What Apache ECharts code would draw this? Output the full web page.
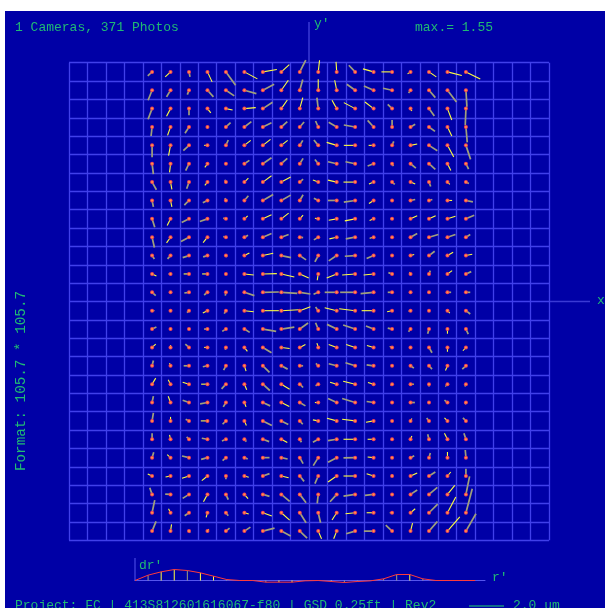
<!DOCTYPE html>
<html><head><meta charset="utf-8">
<style>html,body{margin:0;padding:0;background:#fff;overflow:hidden}#c{width:605px;height:608px}</style>
<script src="https://cdn.jsdelivr.net/npm/echarts@6/dist/echarts.min.js"></script>
</head><body><div id="c"></div>
<script>
// Residual components per grid row (top to bottom), 18 columns each.
// Unit: 1/52.5 um (the 2.0 um scale bar is 105 of these units).
const dxRows = [
[-13,-16,3,14,29,39,42,24,18,4,-2,-19,-32,-32,-9,22,43,43],
[-12,-12,-5,18,25,36,34,21,9,0,-6,-25,-29,-27,-6,19,27,3],
[-12,-12,0,10,20,34,29,18,9,-4,-14,-34,-26,-13,4,16,13,-2],
[-3,-9,-12,0,14,21,26,18,13,-8,-24,-34,-18,0,14,18,13,4],
[0,-6,-17,-10,7,19,23,19,9,-13,-30,-34,-15,5,20,25,19,14],
[4,-3,-10,-8,0,15,26,18,10,-10,-26,-29,-18,4,16,19,10,8],
[13,4,-7,-8,-3,12,26,28,10,-16,-26,-35,-14,8,14,5,7,9],
[4,4,-14,-14,-3,12,31,28,10,-13,-26,-34,-14,0,14,10,14,21],
[8,-10,-22,-23,-8,10,26,22,10,-10,-24,-31,-12,-5,20,20,24,25],
[7,-12,-24,-13,-8,11,26,22,10,-13,-22,-28,-12,0,20,28,24,13],
[7,-9,-19,-13,3,15,31,29,19,-10,-24,-31,-21,0,11,17,17,19],
[13,-6,-16,-16,0,28,42,39,27,-3,-30,-39,-30,-11,-3,4,14,16],
[11,0,-14,-10,-2,30,48,48,32,-14,-36,-45,-39,-13,0,0,11,13],
[7,0,-6,-14,-5,28,48,53,32,-8,-36,-48,-36,-15,-6,0,7,13],
[13,0,0,-10,-11,16,40,39,25,-8,-29,-36,-23,-13,-6,-4,0,7],
[11,0,-11,-10,-2,9,26,25,17,-4,-24,-27,-20,-7,0,9,0,-9],
[4,-3,-16,-14,-7,5,20,19,10,-7,-24,-29,-21,0,10,9,-6,-11],
[11,-7,-19,-19,-13,7,21,25,10,-8,-20,-36,-17,-4,10,0,-6,-3],
[4,-7,-19,-22,-8,5,22,24,17,-10,-26,-39,-21,0,13,0,-9,-3],
[4,0,-10,-20,-10,6,27,21,9,-16,-29,-39,-23,0,4,-7,-9,-9],
[0,-3,-7,-17,-12,6,19,18,5,-16,-26,-35,-18,0,4,-4,-9,-6],
[5,-10,-21,-19,-10,10,20,19,10,-15,-26,-35,-18,0,11,4,0,-2],
[-13,-15,-21,-17,0,13,20,22,13,-10,-26,-35,-21,0,20,19,10,0],
[-7,-16,-19,-12,7,11,20,25,19,-3,-20,-35,-26,0,20,25,22,11],
[8,-6,-13,-4,7,13,27,25,19,7,-14,-29,-21,-7,14,26,25,19],
[12,3,3,4,11,18,35,28,22,10,-9,-27,-29,-19,6,25,37,30]
];
const dyRows = [
[12,15,15,30,40,21,-7,-22,-35,-35,-30,-20,-9,0,6,15,11,21],
[30,20,13,20,17,10,-18,-30,-32,-33,-30,-18,-13,-6,8,22,35,50],
[32,23,20,13,4,-3,-19,-26,-33,-33,-25,-18,-20,-13,7,22,34,50],
[27,25,19,5,-13,-16,-13,-16,-15,-18,-14,-6,-20,-21,-8,13,27,46],
[36,31,16,0,-16,-15,-18,-15,-15,-16,-9,0,0,-12,-4,16,35,42],
[31,26,21,11,0,-10,-18,-16,-16,-13,-6,-6,7,7,13,17,20,16],
[23,22,20,10,-7,-12,-19,-15,-9,-6,-6,0,6,7,6,13,7,4],
[19,19,14,7,-7,-14,-18,-16,-17,-7,0,5,9,0,-3,-3,0,4],
[25,20,11,8,-2,-9,-12,-17,-11,-2,4,6,5,0,-9,-9,-8,-11],
[31,17,13,16,-2,-6,-11,-8,1,8,5,5,3,0,-11,-8,-8,-8],
[10,10,6,4,4,-8,-7,6,13,19,16,2,9,0,-3,-13,-10,-4],
[6,0,0,0,0,3,-1,9,12,19,12,3,3,-4,-6,-10,-10,-7],
[10,0,2,8,10,10,-1,3,5,6,0,0,4,0,0,0,0,0],
[0,0,6,7,9,3,0,-3,-12,-11,-9,-6,0,3,2,0,7,10],
[-6,0,0,0,7,10,7,-6,-18,-19,-14,-12,-9,-3,8,14,14,15],
[-10,-7,-10,0,7,12,16,3,-9,-13,-9,-9,-6,-3,0,16,13,10],
[-16,-8,0,3,13,16,20,10,0,-7,-6,-9,-3,0,7,10,14,10],
[-18,-13,-6,0,14,17,19,15,10,5,-6,-9,-5,5,0,7,7,7],
[-19,-19,-7,4,13,13,10,12,10,0,-12,-12,-3,0,0,0,-7,5],
[-24,-12,-5,0,10,14,14,11,10,-3,-8,-5,4,0,-7,-9,-9,-9],
[-18,-13,-7,-3,5,7,7,10,9,9,4,0,0,0,-10,-15,-18,-18],
[-16,-9,-5,5,9,4,0,4,18,24,14,1,-2,0,-6,-14,-17,-23],
[-6,3,7,14,10,4,-7,5,16,23,18,0,-7,-6,-9,-12,-12,-22],
[-20,-1,12,22,16,13,6,21,25,27,22,5,3,0,-13,-21,-27,-54],
[-38,-12,9,14,9,4,10,22,30,30,22,3,0,0,-12,-26,-47,-72],
[-29,-20,5,-6,-9,-12,-9,15,21,23,23,8,0,-18,-24,-29,-43,-52]
];
// y = bright yellow vector, g = grey vector
const kindRows = [
"gygygyyyg"+"yygyyyyyy","gggggggyg"+"yyggggggg","gygyyygyy"+"gyyygygyg","gygyggggg"+"gggggggyg",
"gygygyyyg"+"gyyygygyg","gygyggggg"+"gggggggyg","gygygyyyg"+"yyyygygyg","gyggggggg"+"gggygggyg",
"gygggyyyy"+"yyyygyyyg","gygyggggg"+"gygyggggg","gggggyygg"+"gggggygyy","ygyygyyyy"+"yyyygygyg",
"ggggggggg"+"ggggggggg","yggygyyyy"+"gyyyyygyg","ggggggggg"+"gggggggyg","yygygygyy"+"yyyyyggyy",
"gygggyggg"+"gggggggyg","yyyygygyg"+"gyyygygyg","gygggygyg"+"ygggggggg","gygygyggg"+"yyyygygyg",
"gygggggyg"+"ggyygygyg","gyggggggg"+"gggygggyg","yyyygygyg"+"gyyygygyg","gggygyggg"+"gggggggyg",
"gygygyyyg"+"gyyyyygyg","gygyggggg"+"yygggygyg"
];
// Radial profile dr' at each radial step (unit: 1/3 pixel of the plot)
const profileValues = [0,16,26,33,30,23,13,3,0,0,-5,-5,-5,-1,0,-3,-6,-3,-1,5,18,18,5,0,0,0,0];
const profileKinds = "xgyygyyg"+"xxgyyxx"+"ygg"+"xggygxxxy";
const infoLeft = "1 Cameras, 371 Photos";
const infoMax = "max.= 1.55";
const formatLabel = "Format: 105.7 * 105.7";
const footerLabel = "Project: FC | 413S812601616067-f80 | GSD 0.25ft | Rev2";
const scaleLabel = "2.0 um";

const UNIT_UM = 1/52.5, PX_PER_UM = 17.5, CELL_W = 480/26, CELL_H = 477.6/26, FIRST_COL = 4;
const COL_Y='#ffff40', COL_G='#a0a07c', COL_GRID='#4040ea', COL_TEXT='#20ba74';
const FONT='"Liberation Mono",monospace';

const vectors=[];
dxRows.forEach((row,r)=>row.forEach((dx,c)=>{
  const x=c+FIRST_COL+0.5, y=r+0.5, dy=dyRows[r][c];
  vectors.push([x,y,x+dx*UNIT_UM*PX_PER_UM/CELL_W,y+dy*UNIT_UM*PX_PER_UM/CELL_H,kindRows[r][c]==='y'?1:0]);
}));
const renderVector=(p,api)=>{
  const a=api.coord([api.value(0),api.value(1)]), b=api.coord([api.value(2),api.value(3)]);
  const yel=api.value(4)===1;
  return {type:'group',children:[
    {type:'line',shape:{x1:a[0],y1:a[1],x2:b[0],y2:b[1]},style:{stroke:yel?COL_Y:COL_G,lineWidth:yel?1.1:1.7}},
    {type:'circle',shape:{cx:a[0],cy:a[1],r:2},style:{fill:'#f0405a'}},
    {type:'circle',shape:{cx:a[0],cy:a[1],r:1},style:{fill:'#ffa040'}}
  ]};
};
const kindColor={g:COL_G,y:COL_Y,x:'transparent'};
const txt=(text,x,y,size,extra)=>({type:'text',x,y,z:20,style:Object.assign({text,fill:COL_TEXT,font:size+'px '+FONT,textVerticalAlign:'middle'},extra||{})});
const ln=(x1,y1,x2,y2,color,w)=>({type:'line',z:-5,shape:{x1,y1,x2,y2},style:{stroke:color,lineWidth:w}});

const chart=echarts.init(document.getElementById('c'),null,{width:605,height:608});
chart.setOption({
  animation:false,
  backgroundColor:'#ffffff',
  grid:[
    {left:69,top:62.7,width:480,height:477.6},
    {left:135,top:558,width:350,height:32}
  ],
  xAxis:[
    {gridIndex:0,type:'value',min:0,max:26,interval:1,axisLabel:{show:false},axisTick:{show:false},axisLine:{show:false},
      splitLine:{show:true,lineStyle:{color:COL_GRID,width:1.3}}},
    {gridIndex:1,type:'value',min:0,max:26.75,axisLabel:{show:false},axisTick:{show:false},splitLine:{show:false},
      axisLine:{show:true,onZero:true,lineStyle:{color:'#5555ee',width:1}}}
  ],
  yAxis:[
    {gridIndex:0,type:'value',inverse:true,min:0,max:26,interval:1,axisLabel:{show:false},axisTick:{show:false},axisLine:{show:false},
      splitLine:{show:true,lineStyle:{color:COL_GRID,width:1.3}}},
    {gridIndex:1,type:'value',min:-28.5,max:67.5,axisLabel:{show:false},axisTick:{show:false},splitLine:{show:false},axisLine:{show:false}}
  ],
  series:[
    {type:'custom',xAxisIndex:0,yAxisIndex:0,data:vectors,renderItem:renderVector,z:5,silent:true},
    {type:'bar',xAxisIndex:1,yAxisIndex:1,barWidth:1,silent:true,z:3,
      data:profileValues.map((v,i)=>({value:[i,v],itemStyle:{color:kindColor[profileKinds[i]]}}))},
    {type:'line',xAxisIndex:1,yAxisIndex:1,showSymbol:false,silent:true,z:4,
      lineStyle:{color:'#ff3a3a',width:1},data:profileValues.map((v,i)=>[i,v])}
  ],
  graphic:[
    {type:'rect',z:-10,shape:{x:5,y:11,width:600,height:597},style:{fill:'#0000a6'}},
    ln(309,22,309,63,'#3a3ad4',1.5),
    ln(549,301.5,590,301.5,'#3a3ad4',1.5),
    ln(135,558,135,581,'#5555ee',1),
    ln(469,606,504,606,'#22d66e',1),
    txt(infoLeft,15,28,13),
    txt("y'",314,24,13),
    txt(infoMax,415,28,13),
    txt("x",597,301,13),
    txt("dr'",139,566,13),
    txt("r'",492,578,13),
    txt(footerLabel,15,606,13),
    txt(scaleLabel,513,606,13),
    {type:'text',x:21,y:381,rotation:Math.PI/2,z:20,style:{text:formatLabel,fill:COL_TEXT,font:'14.3px '+FONT,textAlign:'center',textVerticalAlign:'middle'}}
  ]
});
</script></body></html>
